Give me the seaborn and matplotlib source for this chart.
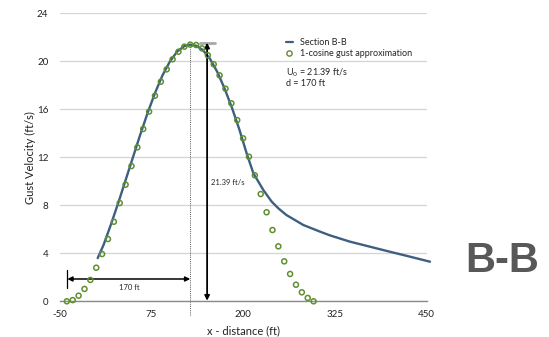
import matplotlib
matplotlib.use("Agg")
import matplotlib.pyplot as plt
from matplotlib.lines import Line2D
import numpy as np
import pandas as pd
import seaborn as sns

# Measured gust velocity, Section B-B (ft, ft/s)
section_x = [2, 10, 20, 30, 40, 50, 60, 70, 80, 90, 100, 110, 120, 128,
             136, 145, 155, 165, 175, 185, 195, 205, 214, 227.5, 239, 248,
             259, 282, 305, 318, 345.6, 372.8, 400, 427.3, 454.5]
section_v = [3.6, 4.7, 6.4, 8.2, 10.1, 12.0, 13.9, 15.7, 17.35, 18.8, 19.95,
             20.8, 21.27, 21.39, 21.3, 20.95, 20.2, 19.1, 17.7, 16.1, 14.3,
             12.3, 10.67, 9.28, 8.3, 7.75, 7.19, 6.36, 5.8, 5.5, 4.97, 4.55,
             4.13, 3.72, 3.3]

# 1-cosine gust approximation, sampled every 8 ft
gust_x = list(range(-40, 297, 8))
gust_v = [0.0, 0.1, 0.47, 1.03, 1.78, 2.8, 3.94, 5.19, 6.63, 8.19, 9.72,
          11.27, 12.83, 14.36, 15.81, 17.13, 18.3, 19.33, 20.17, 20.8, 21.22,
          21.39, 21.36, 21.08, 20.5, 19.75, 18.83, 17.72, 16.5, 15.1, 13.58,
          12.05, 10.5, 8.94, 7.42, 5.94, 4.58, 3.33, 2.28, 1.38, 0.75, 0.28, 0.0]

u0 = 21.39
gust_length = 170
peak_x = 128

x_ticks = [-50, 75, 200, 325, 450]
y_ticks = [0, 4, 8, 12, 16, 20, 24]

sns.set_theme(style="white")
plt.rcParams['font.family'] = ['Lato', 'DejaVu Sans']

line_color = "#3e5f80"
point_color = "#5f8f2f"

fig = plt.figure(figsize=(5.49, 3.37), dpi=100)
ax = fig.add_axes([0.1084, 0.1059, 0.7772 - 0.1084, 0.9605 - 0.1059])

sec_df = pd.DataFrame({"x": section_x, "v": section_v})
gust_df = pd.DataFrame({"x": gust_x, "v": gust_v})

sns.lineplot(data=sec_df, x="x", y="v", ax=ax, color=line_color, lw=1.7,
             clip_on=False, zorder=3, estimator=None, sort=False)
sns.scatterplot(data=gust_df, x="x", y="v", ax=ax, marker="o", s=13,
                facecolors="none", edgecolor=point_color, linewidth=1.1,
                clip_on=False, zorder=4)

ax.set_xlim(-50, 450)
ax.set_ylim(0, 24)
ax.set_xticks(x_ticks)
ax.set_yticks(y_ticks)
ax.set_xticklabels([str(t) for t in x_ticks])
ax.set_yticklabels([str(t) for t in y_ticks])
ax.tick_params(axis="both", length=0, labelsize=7, colors="#222222")
ax.tick_params(axis="y", pad=8)
ax.tick_params(axis="x", pad=6)
ax.yaxis.grid(True, color="#d4d4d4", lw=0.9)
ax.xaxis.grid(False)
for side in ["top", "right", "left"]:
    ax.spines[side].set_visible(False)
ax.spines["bottom"].set_color("#8a8a8a")
ax.spines["bottom"].set_linewidth(1.0)
ax.set_axisbelow(True)

ax.set_xlabel("x - distance (ft)", fontsize=8, labelpad=5, color="#222222")
ax.set_ylabel("Gust Velocity (ft/s)", fontsize=8, labelpad=1, color="#222222")

# Peak marker and amplitude arrow
ax.plot([peak_x, peak_x], [-1.15, u0], ls=(0, (1, 1.2)), color="#555555",
        lw=0.7, clip_on=False, zorder=2)
ax.plot([141, 162], [21.55, 21.55], color="#a8a8a8", lw=2, zorder=2)
ax.annotate("", xy=(151, 0.05), xytext=(151, 21.55),
            arrowprops=dict(arrowstyle="<|-|>", color="black", lw=1.3,
                            mutation_scale=7, shrinkA=0, shrinkB=0))
ax.text(156, 9.9, f"{u0} ft/s", fontsize=5.5, ha="left", va="center")

# Gust half-length arrow
ax.plot([-39.5, -39.5], [1.1, 2.6], color="black", lw=0.9, zorder=2)
ax.annotate("", xy=(-39.3, 1.86), xytext=(peak_x, 1.86),
            arrowprops=dict(arrowstyle="<|-|>", color="black", lw=1.1,
                            mutation_scale=7, shrinkA=0, shrinkB=0))
ax.text(45, 1.15, f"{gust_length} ft", fontsize=5.5, ha="center", va="center")

handles = [Line2D([], [], color=line_color, lw=1.6),
           Line2D([], [], ls="none", marker="o", markersize=3.8,
                  markerfacecolor="none", markeredgecolor=point_color,
                  markeredgewidth=1.0)]
fig.legend(handles, ["Section B-B", "1-cosine gust approximation"],
           loc="upper left", bbox_to_anchor=(280 / 549, 1 - 32 / 337),
           frameon=False, fontsize=6.5, handlelength=0.7, handletextpad=0.8,
           labelspacing=0.15, borderpad=0.2)

fig.text(286 / 549, 1 - 73 / 337, "U$_0$ = 21.39 ft/s", fontsize=6.5,
         ha="left", va="center")
fig.text(286 / 549, 1 - 83.5 / 337, "d = 170 ft", fontsize=6.5,
         ha="left", va="center")

fig.text(502 / 549, 1 - 261 / 337, "B-B", fontsize=30, fontweight="bold",
         family="Liberation Sans", color="#585858", ha="center", va="center")

fig.savefig("out.png", dpi=100)
